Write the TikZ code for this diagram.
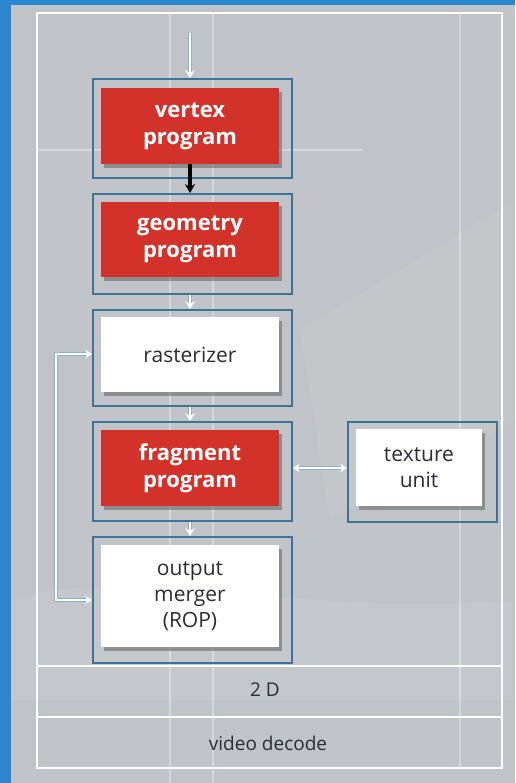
\documentclass[tikz,border=0pt]{standalone}
\usepackage{fontspec}
\setmainfont{Open Sans}
\usetikzlibrary{arrows.meta,shadows,calc}
\definecolor{bgblue}{HTML}{2A86D0}
\definecolor{panel}{HTML}{C0C3C7}
\definecolor{boxblue}{HTML}{3F7396}
\definecolor{redbox}{HTML}{D3322B}
\definecolor{txtdark}{HTML}{2E2A3A}
\definecolor{lineblue}{HTML}{8FB0C8}
\tikzset{
  outerbox/.style={draw=boxblue, line width=1.8pt, minimum width=199pt, inner sep=0pt},
  innerbox/.style={inner sep=0pt, minimum width=178pt, align=center, font=\fontsize{21}{26}\selectfont,
     drop shadow={shadow xshift=3pt, shadow yshift=-4pt, opacity=.45, fill=black!70}},
  redstage/.style={innerbox, fill=redbox, text=white, font=\fontsize{22}{27}\selectfont\bfseries},
  whitestage/.style={innerbox, fill=white, text=txtdark, font=\fontsize{21}{26}\selectfont},
  warrow/.style={draw=white, line width=2.8pt, -{Stealth[length=8pt,width=10pt]},
     preaction={draw=lineblue, line width=4.4pt}},
  thinwarrow/.style={draw=white, line width=2pt,
     {Stealth[length=7pt,width=9pt]}-{Stealth[length=7pt,width=9pt]},
     preaction={draw=lineblue, line width=3.6pt}},
  barrow/.style={draw=black, line width=3.2pt, -{Stealth[length=9pt,width=10pt]}},
  frameline/.style={draw=white, line width=2.4pt},
  gridline/.style={draw=white, line width=1.5pt, opacity=.35},
  plainlabel/.style={text=txtdark, font=\fontsize{19}{23}\selectfont}
}
\begin{document}
\begin{tikzpicture}[x=1pt,y=-1pt]
\useasboundingbox (0,0) rectangle (515,783);
% background
\fill[bgblue] (0,0) rectangle (515,783);
\fill[panel] (11,5) rectangle (515,783);
\fill[white,opacity=.07] (300,330) -- (515,200) -- (515,420) -- (330,520) -- cycle;
\fill[white,opacity=.08] (11,600) .. controls (150,560) and (300,620) .. (515,600) -- (515,700) -- (11,700) -- cycle;
% faint grid lines
\draw[gridline] (170,13) -- (170,783);
\draw[gridline] (213,13) -- (213,783);
\draw[gridline] (460,13) -- (460,768);
\draw[gridline] (37,150) -- (363,150);
% frame
\draw[frameline] (37,13) rectangle (502,768);
\draw[frameline] (37,666) -- (502,666);
\draw[frameline] (37,717) -- (502,717);
\node[plainlabel] (twod) at (265,690) {2 D};
\node[plainlabel] (vdec) at (268,743) {video decode};
% outer boxes
\node[outerbox, minimum height=99pt] (vo) at (192.5,128.5) {};
\node[outerbox, minimum height=100pt] (go) at (192.5,244) {};
\node[outerbox, minimum height=96pt] (ro) at (192.5,358) {};
\node[outerbox, minimum height=99pt] (fo) at (192.5,471.5) {};
\node[outerbox, minimum height=100pt, minimum width=149pt] (to) at (422.5,472) {};
\node[outerbox, minimum height=126pt] (oo) at (192.5,600) {};
% inner boxes
\node[redstage, minimum height=76pt] (vi) at (190,126) {vertex\\program};
\node[redstage, minimum height=75pt] (gi) at (190,239.5) {geometry\\program};
\node[whitestage, minimum height=75pt] (ri) at (190,354.5) {rasterizer};
\node[redstage, minimum height=76pt] (fi) at (190,468) {fragment\\program};
\node[whitestage, minimum height=77pt, minimum width=126pt] (ti) at (419,467.5) {texture\\unit};
\node[whitestage, minimum height=102pt] (oi) at (190,596) {output\\merger\\(ROP)};
% connectors
\coordinate (in) at (190,33);
\draw[warrow] (in) -- (vi.north |- vo.north);
\draw[barrow] (vi.south) -- (vi.south |- go.north);
\draw[warrow] (gi.south |- go.south) -- (ri.north |- ro.north);
\draw[warrow] (ri.south |- ro.south) -- (fi.north |- fo.north);
\draw[warrow] (fi.south |- fo.south) -- (oi.north |- oo.north);
\draw[thinwarrow, line width=2.6pt] (fo.east |- fi.east) -- (to.west |- fi.east);
\draw[thinwarrow] (oo.west) -- ++(-36,0) |- ([yshift=4pt]ro.west);
\end{tikzpicture}
\end{document}
